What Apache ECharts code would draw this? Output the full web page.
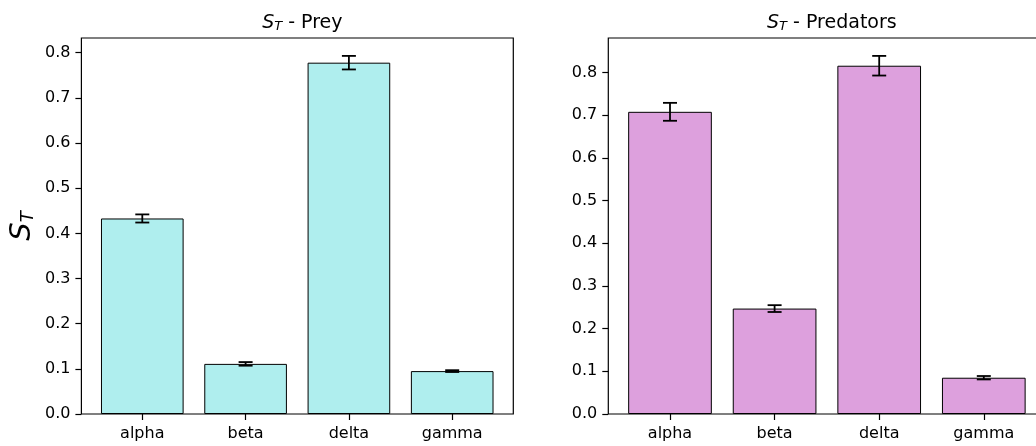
<!DOCTYPE html>
<html>
<head>
<meta charset="utf-8">
<title>Total-order sensitivity indices</title>
<script src="https://cdn.jsdelivr.net/npm/echarts@6/dist/echarts.min.js"></script>
<style>
  html, body { margin: 0; padding: 0; background: #fff; }
  #chart { width: 1036px; height: 446px; }
</style>
</head>
<body>
<div id="chart"></div>
<script>
// Parameters and their total-order sensitivity indices (mean and error half-width)
const categories = ['alpha', 'beta', 'delta', 'gamma'];
const preyValues = [0.433, 0.111, 0.778, 0.095];
const preyErrors = [0.009, 0.004, 0.015, 0.002];
const predValues = [0.708, 0.247, 0.816, 0.085];
const predErrors = [0.021, 0.008, 0.023, 0.004];
const yTicks = [0, 0.1, 0.2, 0.3, 0.4, 0.5, 0.6, 0.7, 0.8];

const FONT = 'DejaVu Sans';
const TOP = 38;
const HEIGHT = 376;

// Panel geometry: outer frame and the inner band area holding the bars
const panels = [
  { frameLeft: 81.4, frameWidth: 431.9, dataLeft: 90.65, dataWidth: 413.2,
    title: ' - Prey', values: preyValues, errors: preyErrors, color: '#AFEEEE', ylabel: true },
  { frameLeft: 608.3, frameWidth: 437.1, dataLeft: 617.7, dataWidth: 418.4,
    title: ' - Predators', values: predValues, errors: predErrors, color: '#DDA0DD', ylabel: false }
];

// Upper limit with 5% headroom above the tallest error bar
function upperLimit(values, errors) {
  let m = 0;
  values.forEach((v, i) => { m = Math.max(m, v + errors[i]); });
  return m * 1.05;
}

function errorBarRenderer(params, api) {
  const i = api.value(0);
  const v = api.value(1);
  const e = api.value(2);
  const hi = api.coord([i, v + e]);
  const lo = api.coord([i, v - e]);
  const hw = 7;
  const st = { stroke: '#000', lineWidth: 1.8 };
  return {
    type: 'group',
    children: [
      { type: 'line', shape: { x1: hi[0], y1: hi[1], x2: lo[0], y2: lo[1] }, style: st },
      { type: 'line', shape: { x1: hi[0] - hw, y1: hi[1], x2: hi[0] + hw, y2: hi[1] }, style: st },
      { type: 'line', shape: { x1: lo[0] - hw, y1: lo[1], x2: lo[0] + hw, y2: lo[1] }, style: st }
    ]
  };
}

const grid = [], xAxis = [], yAxis = [], series = [], title = [];

panels.forEach((p, k) => {
  const ymax = upperLimit(p.values, p.errors);
  const frameIdx = grid.length;
  // frame (spines)
  grid.push({ left: p.frameLeft, top: TOP, width: p.frameWidth, height: HEIGHT,
    show: true, borderColor: '#000', borderWidth: 1.2, backgroundColor: 'transparent',
    containLabel: false, outerBoundsMode: 'none' });
  xAxis.push({ gridIndex: frameIdx, type: 'value', min: 0, max: 1, show: false });
  yAxis.push({ gridIndex: frameIdx, type: 'value', min: 0, max: 1, show: false });

  const dataIdx = grid.length;
  grid.push({ left: p.dataLeft, top: TOP, width: p.dataWidth, height: HEIGHT,
    containLabel: false, outerBoundsMode: 'none' });
  xAxis.push({
    gridIndex: dataIdx, type: 'category', data: categories,
    axisLine: { show: false },
    axisTick: { show: true, alignWithLabel: true, length: 6, lineStyle: { color: '#000', width: 1.2 } },
    axisLabel: { color: '#000', fontFamily: FONT, fontSize: 16, margin: 12 },
    splitLine: { show: false }
  });
  const yA = {
    gridIndex: dataIdx, type: 'value', min: 0, max: ymax,
    offset: p.dataLeft - p.frameLeft,
    axisLine: { show: false },
    axisTick: { show: true, length: 6, customValues: yTicks, lineStyle: { color: '#000', width: 1.2 } },
    axisLabel: { color: '#000', fontFamily: FONT, fontSize: 16, margin: 11,
      customValues: yTicks, formatter: v => v.toFixed(1) },
    splitLine: { show: false }
  };
  if (p.ylabel) {
    yA.name = '{s|S}{t|T}';
    yA.nameLocation = 'middle';
    yA.nameRotate = 90;
    yA.nameGap = 44;
    yA.nameTextStyle = {
      color: '#000',
      rich: {
        s: { fontFamily: FONT, fontSize: 29, fontStyle: 'italic', color: '#000', lineHeight: 34, verticalAlign: 'bottom' },
        t: { fontFamily: FONT, fontSize: 18, fontStyle: 'italic', color: '#000', lineHeight: 24, verticalAlign: 'bottom' }
      }
    };
  }
  yAxis.push(yA);

  series.push({
    type: 'bar', xAxisIndex: dataIdx, yAxisIndex: dataIdx,
    data: p.values, barWidth: '80%',
    itemStyle: { color: p.color, borderColor: '#000', borderWidth: 1 },
    silent: true, animation: false
  });
  series.push({
    type: 'custom', xAxisIndex: dataIdx, yAxisIndex: dataIdx,
    data: categories.map((c, i) => [i, p.values[i], p.errors[i]]),
    encode: { x: 0, y: 1 },
    renderItem: errorBarRenderer,
    z: 5, silent: true, animation: false
  });

  title.push({
    text: '{s|S}{t|T}{n|' + p.title + '}',
    left: p.frameLeft + p.frameWidth / 2,
    top: 6,
    textAlign: 'center',
    textStyle: {
      fontWeight: 'normal',
      rich: {
        s: { fontFamily: FONT, fontSize: 19, fontStyle: 'italic', fontWeight: 'normal', color: '#000', lineHeight: 22, verticalAlign: 'bottom' },
        t: { fontFamily: FONT, fontSize: 13, fontStyle: 'italic', fontWeight: 'normal', color: '#000', lineHeight: 13, verticalAlign: 'bottom' },
        n: { fontFamily: FONT, fontSize: 19, fontWeight: 'normal', color: '#000', lineHeight: 22, verticalAlign: 'bottom' }
      }
    }
  });
});

const chart = echarts.init(document.getElementById('chart'), null, { renderer: 'canvas' });
chart.setOption({
  animation: false,
  backgroundColor: '#fff',
  title: title,
  grid: grid,
  xAxis: xAxis,
  yAxis: yAxis,
  series: series
});
</script>
</body>
</html>
